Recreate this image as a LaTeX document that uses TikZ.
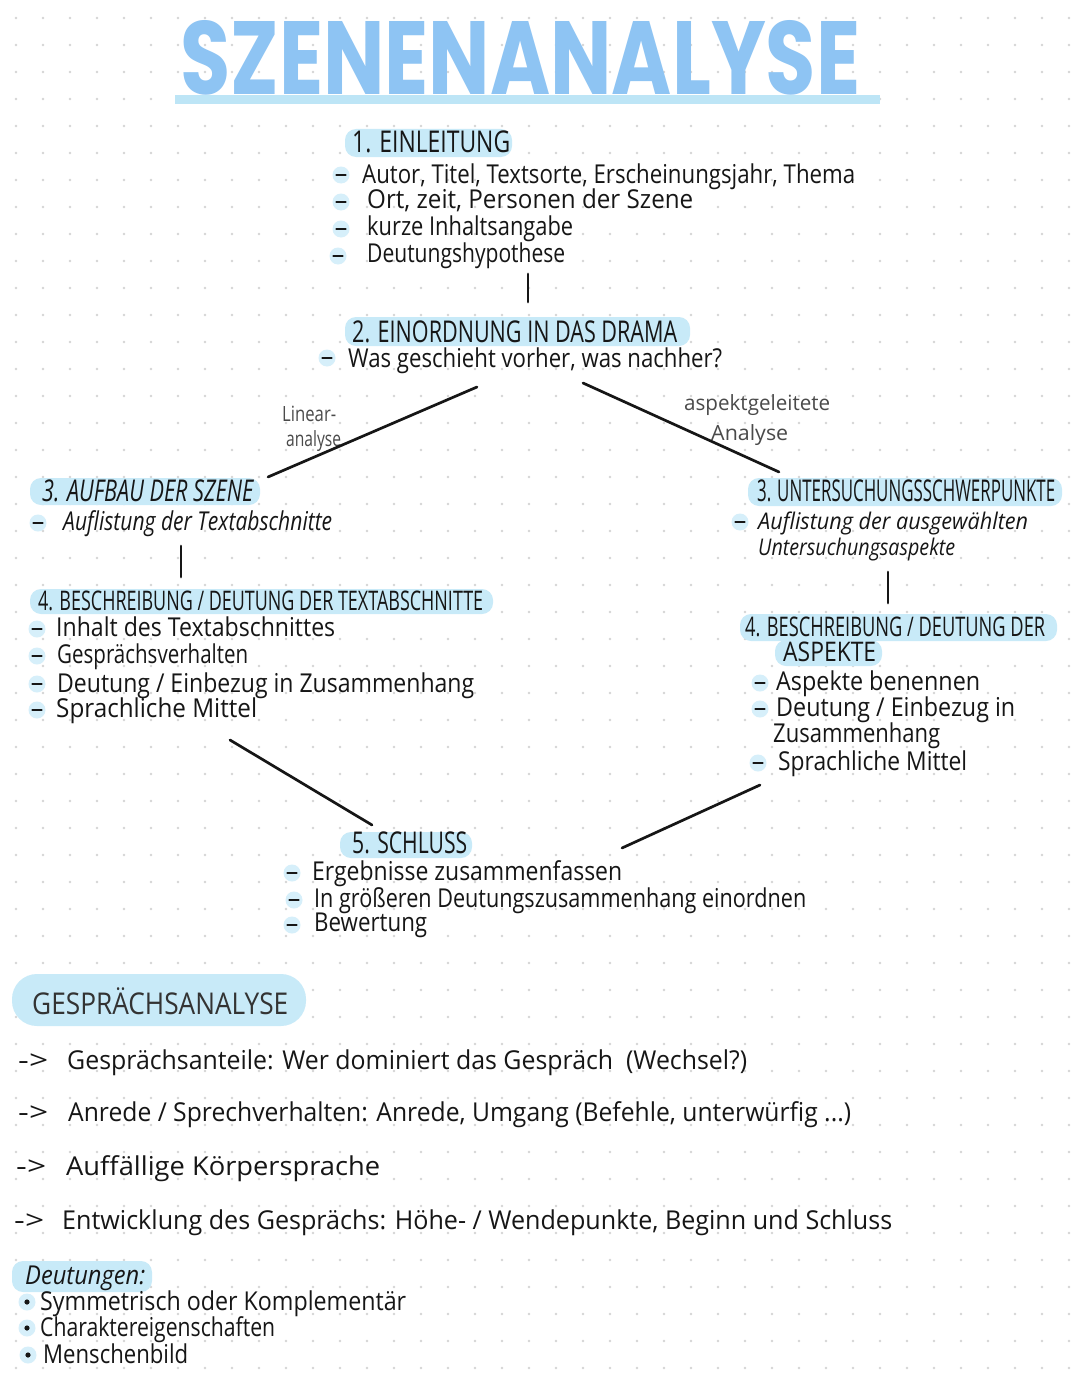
\documentclass[tikz,border=0pt]{standalone}
\usepackage{fontspec}
\usepackage{graphicx}
\newfontfamily\hand{Open Sans}
\newfontfamily\titlefont{Poppins}
\definecolor{ink}{HTML}{161616}
\definecolor{hlblue}{HTML}{C8EAF8}
\definecolor{halo}{HTML}{D6EFFA}
\definecolor{titleblue}{HTML}{8EC4F3}
\definecolor{barblue}{HTML}{BDE5F6}
\definecolor{dotgray}{HTML}{D4D4D4}
\definecolor{labelgray}{HTML}{4A4A4A}
\newcommand\fw[2]{\resizebox{#1pt}{\height}{#2}}
\tikzset{
  txt/.style={anchor=base west, inner sep=0pt, text=ink, font=\hand\fontsize{26}{30}\selectfont},
  txtsm/.style={txt, font=\hand\fontsize{23}{26}\selectfont},
  head/.style={txt, font=\hand\fontsize{30}{34}\selectfont},
  headsm/.style={txt, font=\hand\fontsize{27}{30}\selectfont},
  lbl/.style={anchor=base west, inner sep=0pt, text=labelgray, font=\hand\fontsize{21}{24}\selectfont},
  dsh/.style={circle, fill=halo, minimum size=17pt, inner sep=0pt,
    path picture={\draw[ink, line width=2.6pt, line cap=round]
      ([xshift=-4.5pt]path picture bounding box.center) -- ([xshift=4.5pt]path picture bounding box.center);}},
  bul/.style={circle, fill=halo, minimum size=17pt, inner sep=0pt,
    path picture={\fill[ink] (path picture bounding box.center) circle (2.6pt);}},
  hl/.style={fill=hlblue, rounded corners=11pt},
  conn/.style={draw=ink, line width=2.7pt, line cap=round},
}
\begin{document}
\begin{tikzpicture}[x=1pt, y=-1pt]
\useasboundingbox (0,0) rectangle (1080,1394);
\fill[white] (0,0) rectangle (1080,1394);
% dot grid
\foreach \i in {0,...,39}{
  \foreach \j in {0,...,50}{
    \fill[dotgray] ({16+27*\i},{18+27*\j}) circle (1.3);
  }
}
% title
\fill[barblue] (175,95) rectangle (880,104);
\node[anchor=base west, inner sep=0pt, text=titleblue, font=\titlefont\bfseries\fontsize{104}{110}\selectfont] (title) at (180,95) {\fw{680}{SZENENANALYSE}};

% highlights
\fill[hl] (345,129) rectangle (512,157);
\fill[hl] (345,317) rectangle (690,346);
\fill[hl] (30,478) rectangle (260,505);
\fill[hl] (30,589) rectangle (493,614);
\fill[hl] (748,478) rectangle (1062,506);
\fill[hl] (740,614) rectangle (1057,641);
\fill[hl] (775,640) rectangle (882,666);
\fill[hl] (340,832) rectangle (472,858);
\fill[hlblue, rounded corners=25pt] (12,974) rectangle (306,1026);
\fill[hl] (12,1261) rectangle (152,1292);

% 1. Einleitung
\node[head] (h1) at (352,153) {\fw{158}{1. EINLEITUNG}};
\node[dsh] (d11) at (341,175) {};
\node[dsh] (d12) at (341,202) {};
\node[dsh] (d13) at (341,229) {};
\node[dsh] (d14) at (338,256) {};
\node[txt] (e1) at (362,183) {\fw{493}{Autor, Titel, Textsorte, Erscheinungsjahr, Thema}};
\node[txt] (e2) at (367,208) {\fw{326}{Ort, zeit, Personen der Szene}};
\node[txt] (e3) at (367,235) {\fw{206}{kurze Inhaltsangabe}};
\node[txt] (e4) at (367,262) {\fw{198}{Deutungshypothese}};

% 2. Einordnung
\node[head] (h2) at (352,342) {\fw{325}{2. EINORDNUNG IN DAS DRAMA}};
\node[dsh] (d21) at (327,358) {};
\node[txt] (w1) at (348,367) {\fw{374}{Was geschieht vorher, was nachher?}};

\node[lbl] (l1) at (282,421) {\fw{54}{Linear-}};
\node[lbl] (l2) at (286,446) {\fw{55}{analyse}};
\node[lbl] (r1) at (684,410) {\fw{146}{aspektgeleitete}};
\node[lbl] (r2) at (711,440) {\fw{77}{Analyse}};

% 3. Aufbau
\node[head] (h3l) at (42,501) {\fw{211}{\itshape 3. AUFBAU DER SZENE}};
\node[dsh] (d31) at (38,523) {};
\node[txt] (a1) at (63,530) {\fw{269}{\itshape Auflistung der Textabschnitte}};

% 4. Beschreibung left
\node[headsm] (h4l) at (38,610) {\fw{445}{4. BESCHREIBUNG / DEUTUNG DER TEXTABSCHNITTE}};
\node[dsh] (d41) at (37,629) {};
\node[dsh] (d42) at (37,656) {};
\node[dsh] (d43) at (37,684) {};
\node[dsh] (d44) at (37,710) {};
\node[txt] (b1) at (56,636) {\fw{279}{Inhalt des Textabschnittes}};
\node[txt] (b2) at (57,663) {\fw{191}{Gesprächsverhalten}};
\node[txt] (b3) at (57,692) {\fw{417}{Deutung / Einbezug in Zusammenhang}};
\node[txt] (b4) at (56,717) {\fw{201}{Sprachliche Mittel}};

% 3. Untersuchungsschwerpunkte
\node[head] (h3r) at (757,501) {\fw{298}{3. UNTERSUCHUNGSSCHWERPUNKTE}};
\node[dsh] (d51) at (740,522) {};
\node[txtsm] (u1) at (758,529) {\fw{270}{\itshape Auflistung der ausgewählten}};
\node[txtsm] (u2) at (758,555) {\fw{197}{\itshape Untersuchungsaspekte}};

% 4. Beschreibung right
\node[headsm] (h4r) at (745,636) {\fw{300}{4. BESCHREIBUNG / DEUTUNG DER}};
\node[headsm] (h4r2) at (783,661) {\fw{93}{ASPEKTE}};
\node[dsh] (d61) at (760,683) {};
\node[dsh] (d62) at (760,709) {};
\node[dsh] (d63) at (758,763) {};
\node[txt] (s1) at (776,690) {\fw{204}{Aspekte benennen}};
\node[txt] (s2) at (776,716) {\fw{239}{Deutung / Einbezug in}};
\node[txt] (s3) at (773,742) {\fw{167}{Zusammenhang}};
\node[txt] (s4) at (778,770) {\fw{189}{Sprachliche Mittel}};

% 5. Schluss
\node[head] (h5) at (352,853) {\fw{115}{5. SCHLUSS}};
\node[dsh] (d71) at (292,873) {};
\node[dsh] (d72) at (294,900) {};
\node[dsh] (d73) at (292,925) {};
\node[txt] (c1) at (312,880) {\fw{310}{Ergebnisse zusammenfassen}};
\node[txt] (c2) at (314,907) {\fw{492}{In größeren Deutungszusammenhang einordnen}};
\node[txt] (c3) at (314,931) {\fw{113}{Bewertung}};

% connectors
\coordinate (v1a) at (528,274); \coordinate (v1b) at (528,302);
\coordinate (v2a) at (181,546); \coordinate (v2b) at (181,577);
\coordinate (v3a) at (888,572); \coordinate (v3b) at (888,603);
\coordinate (g1a) at (477,387); \coordinate (g1b) at (268,477);
\coordinate (g2a) at (583,383); \coordinate (g2b) at (779,472);
\coordinate (g3a) at (230,740); \coordinate (g3b) at (372,825);
\coordinate (g4a) at (760,785); \coordinate (g4b) at (622,848);
\draw[conn] (v1a) -- (v1b);
\draw[conn] (v2a) -- (v2b);
\draw[conn] (v3a) -- (v3b);
\draw[conn] (g1a) -- (g1b);
\draw[conn] (g2a) -- (g2b);
\draw[conn] (g3a) -- (g3b);
\draw[conn] (g4a) -- (g4b);

% Gesprächsanalyse
\node[anchor=base west, inner sep=0pt, text=black!80, font=\hand\fontsize{30}{34}\selectfont] (ga) at (32,1014) {\fw{256}{GESPRÄCHSANALYSE}};
\node[txt] (p1) at (18,1069) {\fw{30}{->}};
\node[txt] (p2) at (18,1121) {\fw{30}{->}};
\node[txt] (p3) at (16,1175) {\fw{30}{->}};
\node[txt] (p4) at (14,1229) {\fw{30}{->}};
\node[txt] (q1) at (67,1069) {\fw{680}{Gesprächsanteile: Wer dominiert das Gespräch \ (Wechsel?)}};
\node[txt] (q2) at (68,1121) {\fw{783}{Anrede / Sprechverhalten: Anrede, Umgang (Befehle, unterwürfig ...)}};
\node[txt] (q3) at (66,1175) {\fw{314}{Auffällige Körpersprache}};
\node[txt] (q4) at (62,1229) {\fw{830}{Entwicklung des Gesprächs: Höhe- / Wendepunkte, Beginn und Schluss}};

% Deutungen
\node[txt] (dt) at (25,1284) {\fw{120}{\itshape Deutungen:}};
\node[bul] (k1) at (27,1302) {};
\node[bul] (k2) at (27,1328) {};
\node[bul] (k3) at (28,1355) {};
\node[txt] (m1) at (40,1310) {\fw{366}{Symmetrisch oder Komplementär}};
\node[txt] (m2) at (40,1336) {\fw{235}{Charaktereigenschaften}};
\node[txt] (m3) at (43,1363) {\fw{145}{Menschenbild}};
\end{tikzpicture}
\end{document}
